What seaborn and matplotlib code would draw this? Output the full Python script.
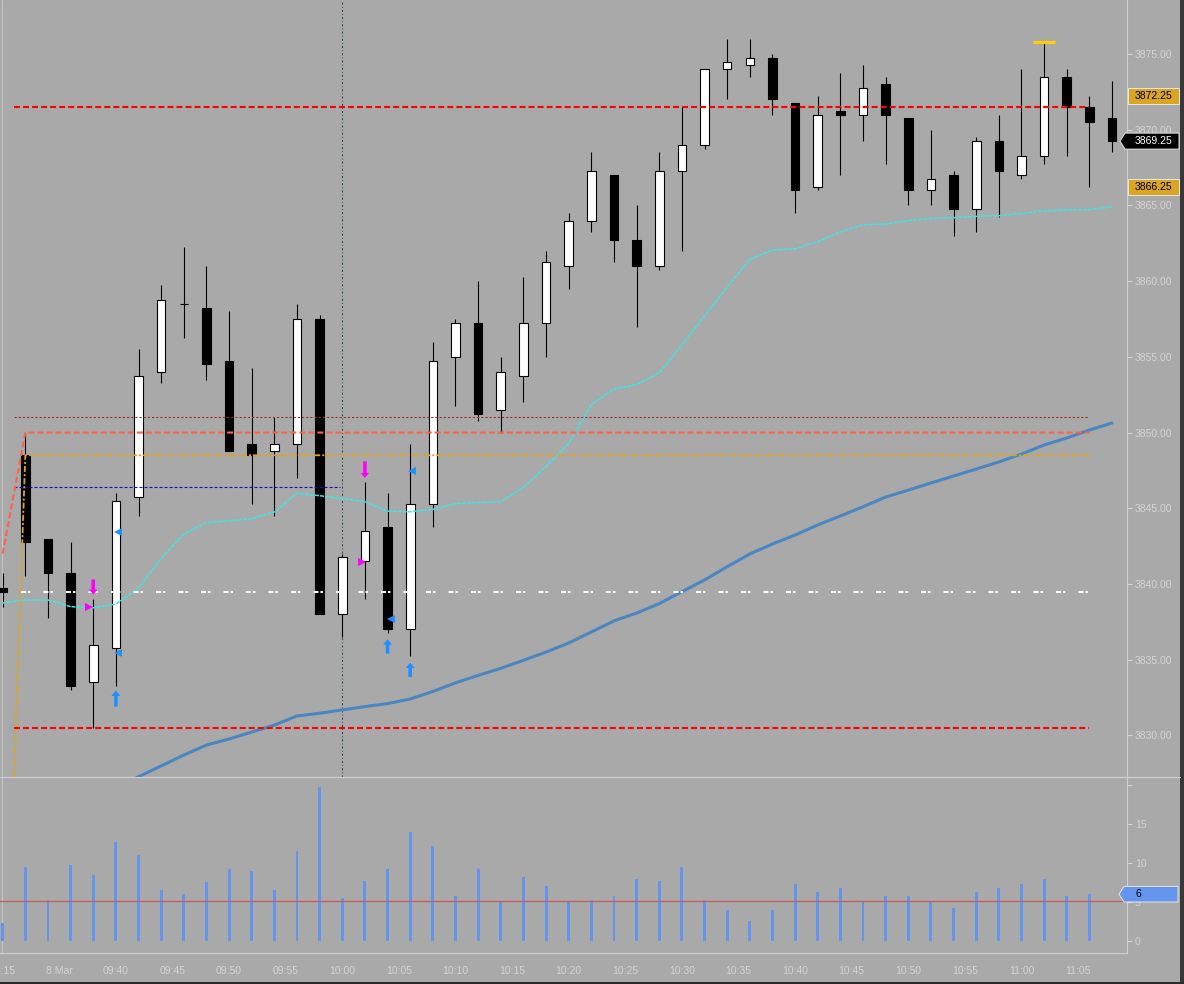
import numpy as np
import pandas as pd
import matplotlib
matplotlib.use("Agg")
import matplotlib.pyplot as plt
import seaborn as sns
from matplotlib.patches import Polygon, Rectangle
from matplotlib.lines import Line2D
from matplotlib import transforms

# ---------------- data ----------------
opens = [3839.75, 3848.5, 3843.0, 3840.75, 3833.5, 3835.75, 3845.75, 3854.0, 3858.5, 3858.25,
         3854.75, 3849.25, 3848.75, 3849.25, 3857.5, 3838.0, 3841.5, 3843.75, 3837.0, 3845.25,
         3855.0, 3857.25, 3851.5, 3853.75, 3857.25, 3861.0, 3864.0, 3867.0, 3862.75, 3861.0,
         3867.25, 3869.0, 3874.0, 3874.25, 3874.75, 3871.75, 3866.25, 3871.25, 3871.0, 3873.0,
         3870.75, 3866.0, 3867.0, 3864.75, 3869.25, 3867.0, 3868.25, 3873.5, 3871.5, 3870.75]
highs = [3840.75, 3850.0, 3843.0, 3842.75, 3839.0, 3846.0, 3855.5, 3859.75, 3862.25, 3861.0,
         3858.0, 3854.25, 3851.0, 3858.5, 3857.75, 3842.0, 3846.75, 3846.0, 3849.25, 3856.0,
         3857.5, 3860.0, 3855.0, 3860.25, 3862.0, 3864.5, 3868.5, 3867.0, 3865.0, 3868.5,
         3871.5, 3874.0, 3876.0, 3876.0, 3875.0, 3871.75, 3872.25, 3873.75, 3874.25, 3873.5,
         3870.75, 3870.0, 3867.25, 3869.5, 3871.0, 3874.0, 3875.75, 3874.0, 3872.25, 3873.25]
lows = [3838.5, 3840.5, 3837.75, 3833.0, 3830.5, 3833.25, 3844.5, 3853.25, 3856.25, 3853.5,
        3848.75, 3845.25, 3844.5, 3847.0, 3838.0, 3836.5, 3839.0, 3836.75, 3835.25, 3843.75,
        3851.75, 3850.75, 3850.0, 3852.0, 3855.0, 3859.5, 3863.25, 3861.25, 3857.0, 3860.75,
        3862.0, 3868.75, 3872.0, 3873.5, 3871.0, 3864.5, 3866.0, 3867.0, 3869.25, 3867.75,
        3865.0, 3865.0, 3863.0, 3863.25, 3864.25, 3866.75, 3867.75, 3868.25, 3866.25, 3868.5]
closes = [3839.5, 3842.75, 3840.75, 3833.25, 3836.0, 3845.5, 3853.75, 3858.75, 3858.5, 3854.5,
          3848.75, 3848.5, 3849.25, 3857.5, 3838.0, 3841.75, 3843.5, 3837.0, 3845.25, 3854.75,
          3857.25, 3851.25, 3854.0, 3857.25, 3861.25, 3864.0, 3867.25, 3862.75, 3861.0, 3867.25,
          3869.0, 3874.0, 3874.5, 3874.75, 3872.0, 3866.0, 3871.0, 3871.0, 3872.75, 3871.0,
          3866.0, 3866.75, 3864.75, 3869.25, 3867.25, 3868.25, 3873.5, 3871.5, 3870.5, 3869.25]
bar_index = list(range(len(opens)))

volume = [2.3, 9.5, 5.3, 9.7, 8.5, 12.7, 11.0, 6.5, 6.0, 7.6,
          9.2, 9.0, 6.5, 11.5, 19.7, 5.5, 7.7, 9.2, 14.0, 12.2,
          5.8, 9.2, 5.0, 8.2, 7.1, 5.0, 5.3, 5.8, 7.9, 7.7,
          9.5, 5.3, 4.0, 2.6, 4.0, 7.3, 6.3, 6.8, 5.0, 5.8,
          5.8, 5.0, 4.2, 6.3, 6.8, 7.3, 7.9, 5.8, 6.0]
volume_index = list(range(len(volume)))
volume_avg = 5.1
volume_tag = 6

fast_ma = [3838.74, 3838.94, 3838.94, 3838.5, 3838.43, 3838.67, 3839.71, 3841.69, 3843.3, 3844.05,
           3844.18, 3844.31, 3844.75, 3845.99, 3845.83, 3845.64, 3845.44, 3844.81, 3844.77, 3844.93,
           3845.31, 3845.37, 3845.44, 3846.37, 3847.76, 3849.28, 3851.85, 3852.88, 3853.17, 3853.94,
           3855.81, 3857.7, 3859.6, 3861.44, 3862.06, 3862.14, 3862.61, 3863.25, 3863.73, 3863.78,
           3864.0, 3864.15, 3864.19, 3864.28, 3864.32, 3864.46, 3864.65, 3864.7, 3864.72, 3864.9]
slow_ma_index = list(range(5, 50))
slow_ma = [3826.5, 3827.27, 3827.98, 3828.7, 3829.36, 3829.76, 3830.22, 3830.68, 3831.28, 3831.46,
           3831.68, 3831.9, 3832.1, 3832.4, 3832.9, 3833.47, 3833.96, 3834.43, 3834.96, 3835.5,
           3836.1, 3836.83, 3837.56, 3838.08, 3838.7, 3839.49, 3840.26, 3841.14, 3841.98, 3842.64,
           3843.23, 3843.9, 3844.49, 3845.1, 3845.74, 3846.2, 3846.67, 3847.13, 3847.59, 3848.06,
           3848.58, 3849.18, 3849.64, 3850.17, 3850.63]

prior_close_idx = [0, 1, 48]
prior_close_val = [3842.0, 3850.0, 3850.0]
open_level_idx = [0, 1, 48]
open_level_val = [3805.75, 3848.5, 3848.5]
red_levels = [3871.5, 3830.5]
white_level = 3839.5
brown_level = 3851.0
blue_level = 3846.4
blue_level_end = 14.9
session_line_idx = 15
high_marker_idx = 46
high_marker_val = 3875.8

sell_arrows = [(4, 3840.3, 3839.3), (16, 3848.1, 3847.0)]          # (bar, tail, head)
buy_arrows = [(5, 3831.9, 3832.95), (17, 3835.4, 3836.35), (18, 3833.85, 3834.8)]
sell_ticks = [(3.79, 3838.5), (15.86, 3841.45)]
buy_ticks = [(5.1, 3843.45), (5.1, 3835.46), (18.1, 3847.45), (17.13, 3837.68)]

price_ticks = [3830, 3835, 3840, 3845, 3850, 3855, 3860, 3865, 3870, 3875]
price_tags = [(3872.25, "#daa520", "black", False),
              (3869.25, "black", "white", True),
              (3866.25, "#daa520", "black", False)]
vol_ticks = [0, 5, 10, 15, 20]
vol_tick_labels = ["0", "5", "10", "15", ""]
xtick_pos = [0, 2.5, 5, 7.5, 10, 12.5, 15, 17.5, 20, 22.5, 25, 27.5, 30, 32.5, 35, 37.5, 40, 42.5, 45, 47.5]
xtick_labels = ["16:15", "8 Mar", "09:40", "09:45", "09:50", "09:55", "10:00", "10:05", "10:10",
                "10:15", "10:20", "10:25", "10:30", "10:35", "10:40", "10:45", "10:50", "10:55",
                "11:00", "11:05"]

# ---------------- style ----------------
BG = "#a9a9a9"
TXT = "#d4d4d4"
SPINE = "#d0d0d0"
sns.set_theme(style="dark", rc={"axes.facecolor": BG, "figure.facecolor": BG, "axes.grid": False})
plt.rcParams['font.family'] = ['Liberation Sans', 'DejaVu Sans']
plt.rcParams['lines.scale_dashes'] = False
plt.rcParams['font.size'] = 7.5

W, H = 1184, 984
fig = plt.figure(figsize=(W / 100, H / 100), dpi=100, facecolor=BG)
ax = fig.add_axes([0, 1 - 777 / H, 1127 / W, 777 / H])
axv = fig.add_axes([0, 1 - 953.3 / H, 1127 / W, (953.3 - 777) / H], sharex=ax)
for a in (ax, axv):
    a.set_facecolor(BG)
    for s in ("left", "top"):
        a.spines[s].set_visible(False)
    for s in ("right", "bottom"):
        a.spines[s].set_color(SPINE)
        a.spines[s].set_linewidth(0.8)

df = pd.DataFrame({"i": bar_index, "o": opens, "h": highs, "l": lows, "c": closes})
up = df["c"] >= df["o"]

# candles
ax.vlines(df["i"], df["l"], df["h"], color="black", linewidth=0.8, zorder=2)
body_lo = np.minimum(df["o"], df["c"])
body_h = np.abs(df["c"] - df["o"])
ax.bar(df["i"], body_h, bottom=body_lo, width=0.38,
       color=np.where(up, "white", "black"), edgecolor="black", linewidth=0.8, zorder=2.2)

# moving averages
sns.lineplot(x=bar_index, y=fast_ma, ax=ax, color="#3ee6e6", linewidth=1.1,
             linestyle=(0, (2.9, 0.7)), zorder=3)
sns.lineplot(x=slow_ma_index, y=slow_ma, ax=ax, color="#4a86c0", linewidth=2.2, zorder=3)

# levels
x_start = bar_index[1] - 0.5
x_end = volume_index[-1]
ax.plot(prior_close_idx, prior_close_val, color="#ff6347", linewidth=1.5,
        linestyle=(0, (4.3, 2.2)), zorder=3.2)
ax.plot(open_level_idx, open_level_val, color="#daa520", linewidth=1.3,
        linestyle=(0, (4.3, 1.5, 1.5, 1.5)), zorder=3.2)
for lv in red_levels:
    ax.plot([x_start, x_end], [lv, lv], color="#ff0000", linewidth=1.5,
            linestyle=(0, (4.3, 2.2)), zorder=3.2)
ax.plot([x_start + 0.3, x_end], [white_level, white_level], color="white", linewidth=1.5,
        linestyle=(0, (3.6, 1.4, 1.8, 9.4)), zorder=3.2)
ax.plot([x_start, x_end], [brown_level, brown_level], color="#9b3030", linewidth=0.8,
        linestyle=(0, (1.6, 1.4)), zorder=3.1)
ax.plot([x_start, blue_level_end], [blue_level, blue_level], color="#1010c8", linewidth=0.8,
        linestyle=(0, (2.2, 1.4)), zorder=3.1)
ax.axvline(session_line_idx, color="#2f4f4f", linewidth=0.8,
           linestyle=(0, (1.5, 1.5, 0.7, 1.5)), zorder=1.5)
ax.hlines(high_marker_val, high_marker_idx - 0.48, high_marker_idx + 0.48,
          color="#ffd000", linewidth=2.3, zorder=4)
for a in (ax, axv):
    a.axvline(-0.018, color="#c4c4c4", linewidth=0.8, zorder=1)

# signal markers
for i, tail, head in sell_arrows:
    ax.annotate("", xy=(i, head), xytext=(i, tail),
                arrowprops=dict(facecolor="#ff00ff", edgecolor="none", width=2.6,
                                headwidth=6, headlength=3.6, shrink=0), zorder=5)
for i, tail, head in buy_arrows:
    ax.annotate("", xy=(i, head), xytext=(i, tail),
                arrowprops=dict(facecolor="#1e90ff", edgecolor="none", width=2.6,
                                headwidth=6.5, headlength=3.8, shrink=0), zorder=5)
for i, y in sell_ticks:
    ax.plot(i, y, marker=">", markersize=5.5, color="#ff00ff", markeredgewidth=0, zorder=5)
for i, y in buy_ticks:
    ax.plot(i, y, marker="<", markersize=5.5, color="#1e90ff", markeredgewidth=0, zorder=5)

# volume
sns.barplot(x=volume_index, y=volume, ax=axv, native_scale=True, width=0.13,
            color="#6495ed", saturation=1, errorbar=None, linewidth=0, edgecolor="none", zorder=2)
axv.axhline(volume_avg, color="#c85a5a", linewidth=0.9, zorder=2.5)
axv.set_xlabel("")
axv.set_ylabel("")

# axes limits / ticks
ax.set_xlim(-0.119, 49.66)
ax.set_ylim(3827.25, 3878.57)
axv.set_ylim(-1.58, 21.03)
ax.yaxis.tick_right()
ax.set_yticks(price_ticks)
ax.set_yticklabels([f"{p:.2f}" for p in price_ticks])
ax.tick_params(axis="y", direction="out", length=3.6, width=0.8, colors=TXT, pad=2.2, labelsize=7.5)
ax.tick_params(axis="x", bottom=False, labelbottom=False)
axv.yaxis.tick_right()
axv.set_yticks(vol_ticks)
axv.set_yticklabels(vol_tick_labels)
axv.tick_params(axis="y", direction="out", length=3.6, width=0.8, colors=TXT, pad=2.2, labelsize=7.5)
axv.set_xticks(xtick_pos)
axv.set_xticklabels(xtick_labels)
axv.tick_params(axis="x", direction="out", length=3.6, width=0.8, colors=TXT, pad=5.2, labelsize=7.5)
ax.set_xlim(-0.119, 49.66)

# price tags on the right axis
def px2ax(px):
    return px / 1127.0

trans_p = transforms.blended_transform_factory(ax.transAxes, ax.transData)
hp = 8.0 * (3878.57 - 3827.25) / 777.0
for val, fc, tc, arrow in price_tags:
    if arrow:
        pts = [(px2ax(1120), val), (px2ax(1125), val + hp), (px2ax(1179), val + hp),
               (px2ax(1179), val - hp), (px2ax(1125), val - hp)]
    else:
        pts = [(px2ax(1128), val + hp), (px2ax(1179), val + hp),
               (px2ax(1179), val - hp), (px2ax(1128), val - hp)]
    ax.add_patch(Polygon(pts, closed=True, facecolor=fc, edgecolor="#e6e6e6", linewidth=0.7,
                         transform=trans_p, clip_on=False, zorder=10))
    ax.text(px2ax(1135), val, f"{val:.2f}", color=tc, fontsize=7.5, ha="left", va="center",
            transform=trans_p, clip_on=False, zorder=11)

trans_v = transforms.blended_transform_factory(axv.transAxes, axv.transData)
hv = 7.8 * (21.03 + 1.58) / 176.3
pts = [(px2ax(1119), volume_tag), (px2ax(1124), volume_tag + hv), (px2ax(1178), volume_tag + hv),
       (px2ax(1178), volume_tag - hv), (px2ax(1124), volume_tag - hv)]
axv.add_patch(Polygon(pts, closed=True, facecolor="#6495ed", edgecolor="#e6e6e6", linewidth=0.7,
                      transform=trans_v, clip_on=False, zorder=10))
axv.text(px2ax(1135), volume_tag, f"{volume_tag}", color="black", fontsize=7.5, ha="left",
         va="center", transform=trans_v, clip_on=False, zorder=11)

# frame decorations
fig.add_artist(Line2D([0, 1180 / W], [1 - 777 / H, 1 - 777 / H], color=SPINE, linewidth=0.8,
                      transform=fig.transFigure))
fig.add_artist(Rectangle((1180 / W, 0), 4 / W, 1, facecolor="#383838", edgecolor="none",
                         transform=fig.transFigure))
fig.add_artist(Rectangle((0, 0), 1, 2.5 / H, facecolor="#2a2a2a", edgecolor="none",
                         transform=fig.transFigure))

fig.savefig("out.png", dpi=100, facecolor=BG)
